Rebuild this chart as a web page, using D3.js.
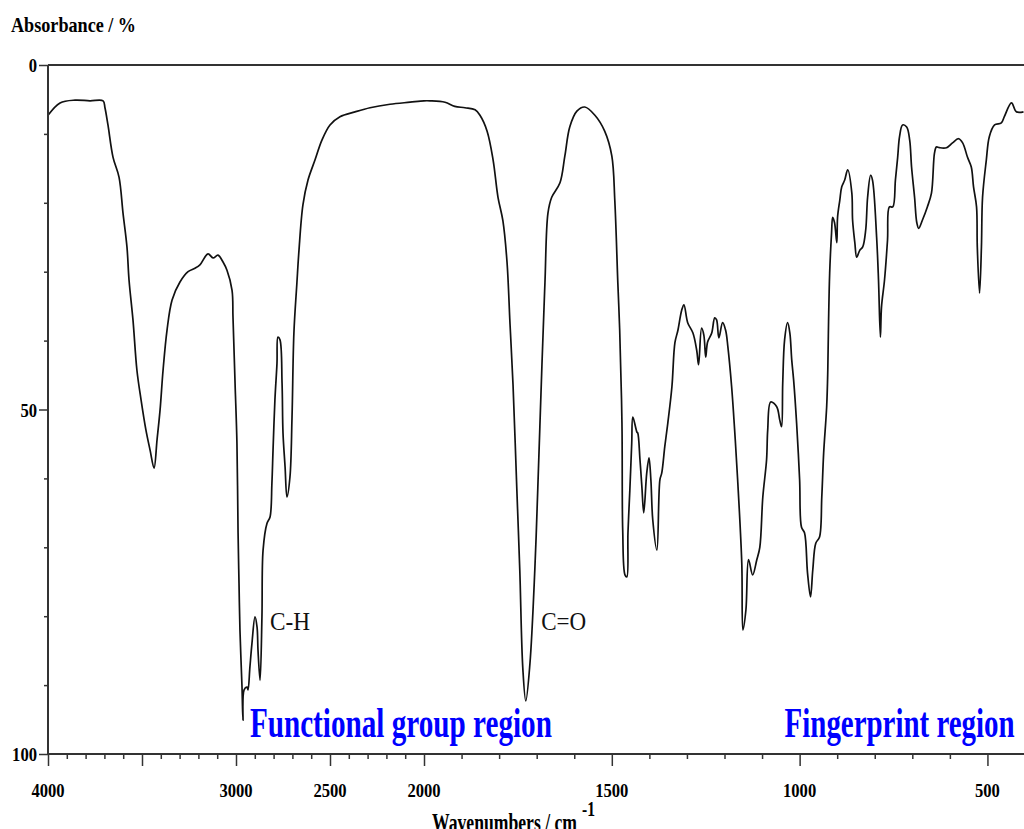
<!DOCTYPE html>
<html>
<head>
<meta charset="utf-8">
<script src="https://cdn.jsdelivr.net/npm/d3@7"></script>
<style>
  body { margin: 0; background: #fff; }
  text { font-family: "Liberation Serif", "Times New Roman", serif; }
</style>
</head>
<body>
<div id="spectrum"></div>
<script>
// wavenumbers (cm-1)
var wavenumbers = [
  4000, 3936, 3856, 3777, 3707, 3697, 3681, 3654, 3622, 3601, 3580, 3569, 3548, 3527, 3505, 3479,
  3457, 3436, 3420, 3404, 3388, 3367, 3340, 3298, 3255, 3218, 3192, 3149, 3122, 3096, 3069, 3048,
  3021, 3016, 3005, 2995, 2989, 2984, 2979, 2968, 2963, 2957, 2941, 2936, 2926, 2915, 2899, 2888,
  2883, 2872, 2862, 2856, 2835, 2819, 2809, 2803, 2793, 2782, 2777, 2766, 2755, 2750, 2739, 2729,
  2713, 2702, 2692, 2676, 2665, 2644, 2617, 2580, 2543, 2500, 2447, 2367, 2287, 2181, 2074, 2000,
  1984, 1944, 1918, 1891, 1864, 1851, 1832, 1816, 1803, 1790, 1779, 1771, 1763, 1753, 1745, 1737,
  1729, 1718, 1705, 1697, 1686, 1678, 1670, 1660, 1638, 1625, 1612, 1593, 1572, 1545, 1519, 1500,
  1492, 1484, 1479, 1473, 1471, 1465, 1460, 1457, 1452, 1447, 1444, 1433, 1431, 1425, 1420, 1415,
  1407, 1401, 1396, 1391, 1380, 1372, 1367, 1359, 1351, 1340, 1332, 1324, 1314, 1308, 1298, 1284,
  1274, 1269, 1261, 1255, 1250, 1245, 1234, 1226, 1221, 1215, 1205, 1197, 1191, 1181, 1173, 1165,
  1154, 1151, 1143, 1136, 1125, 1114, 1106, 1098, 1088, 1085, 1077, 1061, 1053, 1048, 1045, 1040,
  1032, 1026, 1021, 1016, 1008, 1000, 995, 987, 979, 971, 965, 957, 947, 941, 936, 928,
  925, 923, 920, 915, 912, 907, 901, 899, 893, 888, 880, 872, 861, 859, 853, 848,
  840, 832, 824, 819, 811, 806, 795, 790, 785, 782, 774, 766, 761, 752, 745, 739,
  734, 726, 715, 707, 702, 694, 688, 683, 673, 660, 649, 641, 636, 628, 609, 593,
  577, 566, 553, 543, 537, 529, 527, 521, 516, 513, 503, 495, 481, 463, 455, 436,
  423, 404
];

// absorbance (%) at each wavenumber
var absorbance = [
  7.3, 5.5, 5.1, 5.2, 5.2, 6.2, 8.7, 13.4, 16.3, 21.5, 26.4, 31.2, 37.0, 44.3, 48.6, 53.0,
  55.9, 58.5, 54.4, 50.1, 44.3, 38.5, 34.1, 31.5, 30.0, 29.5, 29.0, 27.4, 28.0, 27.6, 28.6, 29.8,
  32.7, 36.6, 46.2, 54.9, 67.9, 75.2, 82.0, 90.3, 95.1, 90.7, 90.3, 90.7, 87.4, 83.9, 80.1, 81.6,
  84.9, 89.3, 80.1, 70.4, 66.5, 65.6, 60.7, 55.9, 48.6, 43.3, 39.5, 39.9, 46.2, 53.4, 58.3, 62.7,
  59.8, 51.1, 38.9, 31.6, 26.9, 20.3, 16.7, 13.8, 10.9, 8.7, 7.5, 6.8, 6.2, 5.7, 5.4, 5.2,
  5.2, 5.4, 6.0, 6.2, 6.5, 7.3, 9.6, 13.8, 19.2, 22.6, 28.6, 37.6, 46.4, 61.4, 73.3, 87.5,
  92.3, 86.9, 73.3, 61.4, 43.5, 31.6, 21.5, 19.2, 17.1, 13.2, 9.0, 6.7, 6.1, 7.3, 9.6, 13.2,
  19.7, 31.6, 38.5, 52.0, 67.5, 74.0, 74.3, 67.9, 61.7, 54.9, 51.1, 53.3, 53.4, 57.3, 61.2, 65.0,
  59.2, 57.0, 60.2, 66.0, 70.4, 60.2, 59.2, 55.4, 52.0, 46.7, 40.3, 38.5, 35.6, 34.8, 37.4, 38.9,
  41.4, 43.5, 38.2, 39.2, 42.4, 40.2, 38.9, 36.7, 37.0, 39.6, 37.4, 38.5, 40.9, 46.7, 53.0, 60.2,
  72.3, 82.0, 79.1, 71.8, 74.0, 71.8, 70.0, 62.7, 57.3, 53.0, 48.9, 49.6, 51.5, 52.5, 46.2, 39.9,
  37.4, 38.9, 42.8, 45.7, 52.0, 60.2, 67.1, 67.9, 73.7, 77.2, 73.3, 69.4, 68.5, 62.7, 56.3, 49.6,
  44.3, 37.4, 30.2, 24.4, 22.1, 22.9, 25.8, 22.1, 19.6, 17.7, 16.7, 15.2, 18.6, 22.5, 25.8, 27.9,
  26.9, 26.4, 23.9, 19.2, 16.0, 16.7, 25.0, 31.2, 39.5, 35.1, 31.2, 25.4, 20.6, 20.6, 16.7, 13.4,
  10.4, 8.7, 9.0, 10.9, 14.8, 19.2, 22.9, 23.7, 22.5, 20.6, 18.6, 12.8, 11.9, 12.0, 12.0, 11.3,
  10.7, 11.3, 13.4, 14.8, 17.7, 20.6, 26.4, 33.1, 26.4, 19.2, 13.8, 10.4, 8.7, 8.4, 7.5, 5.5,
  6.8, 6.8
];

// tick labels
var xTickLabels = [4000, 3000, 2500, 2000, 1500, 1000, 500];
var yTickLabels = [0, 50, 100];

// band labels
var bandNames = ["C-H", "C=O"];
var bandWavenumbers = [2819, 1688];
var bandAbsorbance = [82, 82];

// region labels
var regionNames = ["Functional group region", "Fingerprint region"];
var regionWavenumbers = [2926, 1040];

var svgWidth = 1024;
var svgHeight = 829;

var svg = d3.select("#spectrum")
    .append("svg")
    .attr("width", svgWidth)
    .attr("height", svgHeight);

// the wavenumber axis doubles its scale below 2000 cm-1
var xScale = d3.scaleLinear()
    .domain([4000, 2000, 400])
    .range([48, 424, 1025]);

var yScale = d3.scaleLinear()
    .domain([0, 100])
    .range([65, 754]);

// squeeze the serif text to the narrow look of the original
function squeeze(sel, perChar) {
    sel.attr("textLength", d => String(d).length * perChar)
       .attr("lengthAdjust", "spacingAndGlyphs");
}

// spectrum trace
var points = wavenumbers.map((w, i) => [w, absorbance[i]]);

var line = d3.line()
    .x(d => xScale(d[0]))
    .y(d => yScale(d[1]))
    .curve(d3.curveCatmullRom.alpha(0.5));

svg.append("path")
    .datum(points)
    .attr("d", line)
    .attr("fill", "none")
    .attr("stroke", "#111")
    .attr("stroke-width", 1.7)
    .attr("stroke-linejoin", "round");

// frame: top line
svg.append("line")
    .attr("x1", xScale(4000)).attr("x2", svgWidth)
    .attr("y1", yScale(0)).attr("y2", yScale(0))
    .attr("stroke", "#333").attr("stroke-width", 2);

// x axis
var xMinor = d3.range(4000, 399, -100);
var xAxis = d3.axisBottom(xScale)
    .tickValues(xMinor)
    .tickSize(5)
    .tickFormat("");

var xg = svg.append("g")
    .attr("transform", `translate(0, ${yScale(100)})`)
    .call(xAxis);

xg.select(".domain")
    .attr("d", `M${xScale(4000)},0H${svgWidth}`)
    .attr("stroke", "#333")
    .attr("stroke-width", 2);
xg.selectAll(".tick line")
    .attr("stroke", "#333")
    .attr("stroke-width", 1.5)
    .attr("y2", d => d % 500 === 0 ? 12 : 5);

svg.append("g")
    .selectAll("text")
    .data(xTickLabels)
    .enter()
    .append("text")
    .attr("x", d => xScale(d))
    .attr("y", 797)
    .attr("text-anchor", "middle")
    .attr("font-size", 19)
    .attr("font-weight", "bold")
    .text(d => d)
    .call(squeeze, 8.3);

// y axis
var yAxis = d3.axisLeft(yScale)
    .tickValues(d3.range(0, 101, 10))
    .tickSize(4)
    .tickFormat("");

var yg = svg.append("g")
    .attr("transform", `translate(${xScale(4000)}, 0)`)
    .call(yAxis);

yg.select(".domain")
    .attr("d", `M0,${yScale(0)}V${yScale(100)}`)
    .attr("stroke", "#333")
    .attr("stroke-width", 2);
yg.selectAll(".tick line")
    .attr("stroke", "#333")
    .attr("stroke-width", 1.5)
    .attr("x2", d => d % 50 === 0 ? -9 : -4);

svg.append("g")
    .selectAll("text")
    .data(yTickLabels)
    .enter()
    .append("text")
    .attr("x", 37)
    .attr("y", d => yScale(d) + 7)
    .attr("text-anchor", "end")
    .attr("font-size", 19)
    .attr("font-weight", "bold")
    .text(d => d)
    .call(squeeze, 8.3);

// axis titles
svg.append("text")
    .attr("x", 11)
    .attr("y", 32)
    .attr("font-size", 22)
    .attr("font-weight", "bold")
    .attr("textLength", 125)
    .attr("lengthAdjust", "spacingAndGlyphs")
    .text("Absorbance / %");

svg.append("text")
    .attr("x", 432)
    .attr("y", 831)
    .attr("font-size", 26)
    .attr("font-weight", "bold")
    .attr("textLength", 145)
    .attr("lengthAdjust", "spacingAndGlyphs")
    .text("Wavenumbers / cm");

svg.append("text")
    .attr("x", 582)
    .attr("y", 816)
    .attr("font-size", 20)
    .attr("font-weight", "bold")
    .attr("textLength", 13)
    .attr("lengthAdjust", "spacingAndGlyphs")
    .text("-1");

// band annotations
svg.append("g")
    .selectAll("text")
    .data(bandNames)
    .enter()
    .append("text")
    .attr("x", (d, i) => xScale(bandWavenumbers[i]))
    .attr("y", (d, i) => yScale(bandAbsorbance[i]))
    .attr("font-size", 26)
    .attr("fill", "#111")
    .attr("textLength", d => d === "C-H" ? 40 : 45)
    .attr("lengthAdjust", "spacingAndGlyphs")
    .text(d => d);

// region labels
svg.append("g")
    .selectAll("text")
    .data(regionNames)
    .enter()
    .append("text")
    .attr("x", (d, i) => xScale(regionWavenumbers[i]))
    .attr("y", 737)
    .attr("font-size", 42)
    .attr("font-weight", "bold")
    .attr("fill", "#0000ff")
    .attr("textLength", (d, i) => i === 0 ? 302 : 230)
    .attr("lengthAdjust", "spacingAndGlyphs")
    .text(d => d);
</script>
</body>
</html>
